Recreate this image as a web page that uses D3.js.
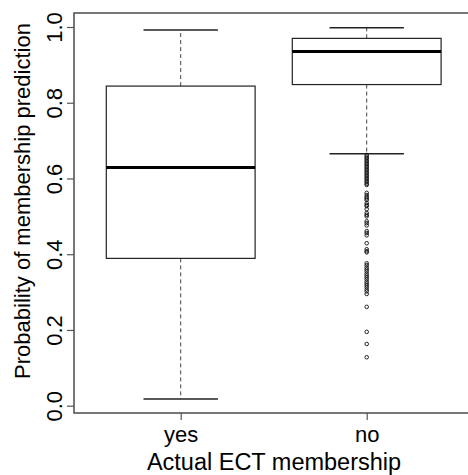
<!DOCTYPE html>
<html>
<head>
<meta charset="utf-8">
<script src="https://cdn.jsdelivr.net/npm/d3@7"></script>
<style>
  html, body { margin: 0; padding: 0; background: #fff; }
  svg { display: block; font-family: "Liberation Sans", Arial, sans-serif; }
</style>
</head>
<body>
<svg id="chart" width="468" height="475"></svg>
<script>
// ---- data ----
const categories = ["yes", "no"];
const whiskerLow  = [0.018, 0.665];
const q1          = [0.389, 0.848];
const median      = [0.629, 0.935];
const q3          = [0.844, 0.970];
const whiskerHigh = [0.992, 0.998];
const outliersNo = [
  0.662, 0.658, 0.654, 0.650, 0.646, 0.642, 0.638, 0.634, 0.630, 0.626,
  0.622, 0.618, 0.614, 0.610, 0.606, 0.602, 0.598, 0.594, 0.590, 0.586,
  0.583, 0.562, 0.556, 0.551, 0.547, 0.543, 0.535, 0.530, 0.527, 0.519,
  0.509, 0.504, 0.500, 0.487, 0.482, 0.476, 0.461, 0.456, 0.450, 0.429,
  0.413, 0.408, 0.405, 0.376, 0.371, 0.365, 0.360, 0.355, 0.349, 0.344,
  0.339, 0.334, 0.328, 0.323, 0.318, 0.313, 0.307, 0.302, 0.295, 0.261,
  0.195, 0.163, 0.128
];
const yTicks = [0.0, 0.2, 0.4, 0.6, 0.8, 1.0];
const yLabel = "Probability of membership prediction";
const xLabel = "Actual ECT membership";

// ---- layout ----
const FS = 22;
const svg = d3.select("#chart");
const plot = { left: 74, top: 13, right: 470, bottom: 413 };
const y = d3.scaleLinear().domain([0, 1]).range([405.7, 27]);
const x = d3.scalePoint().domain(categories).range([180.7, 366.7]);
const step = x(categories[1]) - x(categories[0]);
const boxW = step * 0.8;
const capW = boxW / 2;

const boxes = categories.map((c, i) => ({
  cat: c, lo: whiskerLow[i], q1: q1[i], med: median[i], q3: q3[i], hi: whiskerHigh[i]
}));

const g = svg.append("g");

// whiskers (dashed)
g.selectAll(".wh-up").data(boxes).enter().append("line")
  .attr("x1", d => x(d.cat)).attr("x2", d => x(d.cat))
  .attr("y1", d => y(d.q3)).attr("y2", d => y(d.hi))
  .attr("stroke", "#444").attr("stroke-width", 1).attr("stroke-dasharray", "4,3");
g.selectAll(".wh-lo").data(boxes).enter().append("line")
  .attr("x1", d => x(d.cat)).attr("x2", d => x(d.cat))
  .attr("y1", d => y(d.q1)).attr("y2", d => y(d.lo))
  .attr("stroke", "#444").attr("stroke-width", 1).attr("stroke-dasharray", "4,3");

// caps
["hi", "lo"].forEach(k => {
  g.selectAll(".cap-" + k).data(boxes).enter().append("line")
    .attr("x1", d => x(d.cat) - capW / 2).attr("x2", d => x(d.cat) + capW / 2)
    .attr("y1", d => y(d[k])).attr("y2", d => y(d[k]))
    .attr("stroke", "#222").attr("stroke-width", 1.5);
});

// boxes
g.selectAll(".box").data(boxes).enter().append("rect")
  .attr("x", d => x(d.cat) - boxW / 2)
  .attr("y", d => y(d.q3))
  .attr("width", boxW)
  .attr("height", d => y(d.q1) - y(d.q3))
  .attr("fill", "#fff").attr("stroke", "#222").attr("stroke-width", 1.2);

// medians
g.selectAll(".med").data(boxes).enter().append("line")
  .attr("x1", d => x(d.cat) - boxW / 2).attr("x2", d => x(d.cat) + boxW / 2)
  .attr("y1", d => y(d.med)).attr("y2", d => y(d.med))
  .attr("stroke", "#000").attr("stroke-width", 3);

// outliers
g.selectAll(".out").data(outliersNo).enter().append("circle")
  .attr("cx", x("no")).attr("cy", d => y(d)).attr("r", 1.8)
  .attr("fill", "none").attr("stroke", "#111").attr("stroke-width", 0.9);

// frame
svg.append("rect")
  .attr("x", plot.left).attr("y", plot.top)
  .attr("width", plot.right - plot.left).attr("height", plot.bottom - plot.top)
  .attr("fill", "none").attr("stroke", "#555").attr("stroke-width", 1.6);

// y axis
const yAxis = svg.append("g").attr("transform", `translate(${plot.left},0)`)
  .call(d3.axisLeft(y).tickValues(yTicks).tickFormat(d3.format(".1f")).tickSize(7).tickPadding(4));
yAxis.select(".domain").remove();
yAxis.selectAll(".tick line").attr("stroke", "#555").attr("stroke-width", 1.2);
yAxis.selectAll(".tick text")
  .attr("font-size", FS).attr("fill", "#000")
  .attr("text-anchor", "middle")
  .attr("x", 0).attr("dy", 0)
  .attr("transform", "translate(-12,0) rotate(-90)");

// x axis
const xAxis = svg.append("g").attr("transform", `translate(0,${plot.bottom})`)
  .call(d3.axisBottom(x).tickSize(7).tickPadding(4));
xAxis.select(".domain").remove();
xAxis.selectAll(".tick line").attr("stroke", "#555").attr("stroke-width", 1.2);
xAxis.selectAll(".tick text").attr("font-size", FS).attr("fill", "#000")
  .attr("y", 29).attr("dy", 0);

// axis titles
svg.append("text")
  .attr("x", 274).attr("y", 470)
  .attr("text-anchor", "middle").attr("font-size", 23.5).text(xLabel);
svg.append("text")
  .attr("transform", `translate(30,201) rotate(-90)`)
  .attr("text-anchor", "middle").attr("font-size", FS).text(yLabel);
</script>
</body>
</html>
